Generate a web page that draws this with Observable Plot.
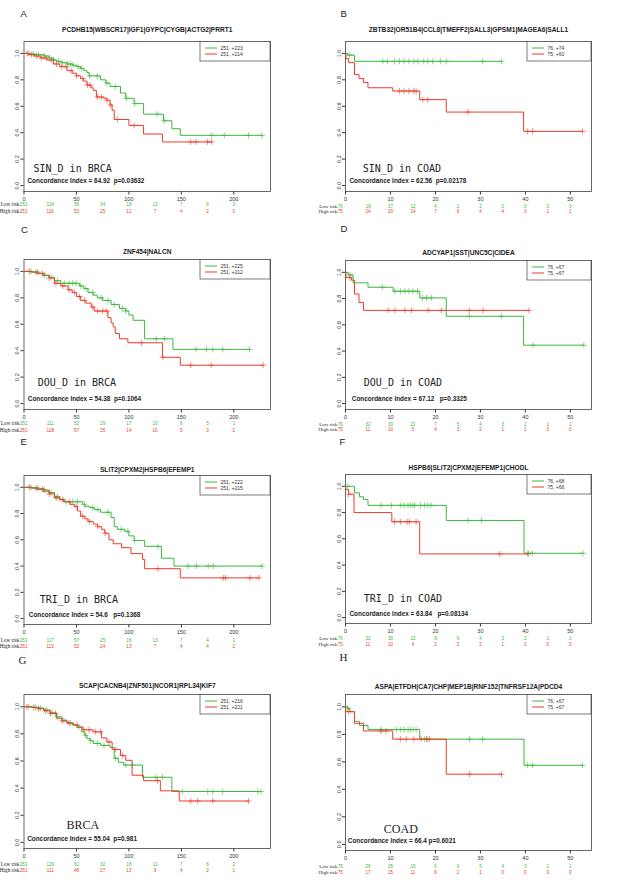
<!DOCTYPE html>
<html><head><meta charset="utf-8">
<script src="https://cdn.jsdelivr.net/npm/d3@7"></script>
<script src="https://cdn.jsdelivr.net/npm/@observablehq/plot@0.6"></script>
<style>
html,body{margin:0;padding:0;background:#fff}
body{width:627px;height:891px;position:relative;overflow:hidden;font-family:"Liberation Sans",Arial,sans-serif}
.panel{position:absolute}
.panel svg{overflow:visible;display:block}
.panel svg text{white-space:pre}
</style></head><body>
<script>
// ---------- shared tick labels / risk-table times ----------
const yTicks = [0, 0.2, 0.4, 0.6, 0.8, 1.0];
const brcaTicks = [0, 50, 100, 150, 200];
const coadTicks = [0, 10, 20, 30, 40, 50];
const brcaRiskTimes = [0, 25, 50, 75, 100, 125, 150, 175, 200];
const coadRiskTimes = [0, 5, 10, 15, 20, 25, 30, 35, 40, 45, 50];

// ---------- Panel A ----------
const aTitle = "PCDHB15|WBSCR17|IGF1|GYPC|CYGB|ACTG2|PRRT1";
const aLegend = ["251, +223", "251, +214"];
const aLabel = "SIN_D in BRCA";
const aStat = "Concordance Index = 64.92  p=0.03632";
const aLowT = [0,5,12,19,24,28,31,36,41,46,50,54,57,60,62,73,78,82,92,97,105,114,133,141,149,227];
const aLowS = [1,0.995,0.99,0.98,0.965,0.95,0.94,0.93,0.92,0.91,0.90,0.886,0.87,0.855,0.83,0.80,0.775,0.75,0.70,0.66,0.62,0.54,0.49,0.43,0.38,0.38];
const aLowCens = [4.5,9,14,19.5,24.5,28.5,33,36.5,41.5,44,47,51.5,55,62.5,70,79,87,97.5,105.5,127,133.5,179,191,214,227];
const aHighT = [0,4,10,16,22,28,34,41,46,50,54,57,60,64,66,69,76,79,82,84,86,100,114,132,179];
const aHighS = [1,0.99,0.98,0.965,0.95,0.92,0.90,0.87,0.85,0.83,0.81,0.79,0.76,0.74,0.72,0.67,0.66,0.645,0.61,0.57,0.50,0.455,0.39,0.33,0.33];
const aHighCens = [3,7,12,16.5,21,26,31,36,40,45,50,56,60.5,63,70,74,79,82.5,89,105,159,164,175,179];
const aRiskLow = [251,124,56,34,18,13,7,6,3];
const aRiskHigh = [251,110,53,25,12,7,4,2,0];

// ---------- Panel B ----------
const bTitle = "ZBTB32|OR51B4|CCL8|TMEFF2|SALL3|GPSM1|MAGEA6|SALL1";
const bLegend = ["76, +74", "75, +60"];
const bLabel = "SIN_D in COAD";
const bStat = "Concordance Index = 62.56  p=0.02178";
const bLowT = [0,0.5,2,34.7];
const bLowS = [1,0.987,0.94,0.94];
const bLowCens = [0.9,8.3,9.3,10.9,12,13,14.1,15.2,16.1,17.4,18.3,19.4,21.1,22.4,30.5,34.7];
const bHighT = [0,0.1,0.7,2,3,4,5,10.5,16.5,22.4,39.6,52.7];
const bHighS = [1,0.96,0.93,0.84,0.81,0.78,0.74,0.715,0.65,0.556,0.41,0.41];
const bHighCens = [12,13,14.1,15.2,15.7,17.2,18.3,27.2,40.5,41.6,52.7];
const bRiskLow = [76,19,17,12,4,2,2,0,0,0,0];
const bRiskHigh = [75,24,20,14,7,6,4,4,3,1,1];

// ---------- Panel C ----------
const cTitle = "ZNF454|NALCN";
const cLegend = ["251, +225", "251, +212"];
const cLabel = "DOU_D in BRCA";
const cStat = "Concordance Index = 54.38  p=0.1064";
const cLowT = [0,8,14,19,24,29,35,53,57,61,66,70,75,83,91,97,100,104,115,142,215];
const cLowS = [1,0.995,0.985,0.97,0.955,0.93,0.91,0.89,0.87,0.84,0.82,0.80,0.78,0.75,0.72,0.70,0.67,0.63,0.49,0.41,0.41];
const cLowCens = [6.7,13,19.4,25.8,32,38.5,43,46.4,49.6,54,59,65.5,73.5,80,86,94,97,126,134,164,174,180,189.5,215];
const cHighT = [0,6,12,18,24,29,35,42,46,50,54,59,64,67,80,83,85,87,91,99,132,149,228];
const cHighS = [1,0.995,0.985,0.97,0.95,0.91,0.89,0.86,0.84,0.81,0.78,0.76,0.73,0.70,0.65,0.61,0.58,0.53,0.49,0.46,0.35,0.29,0.29];
const cHighCens = [5,11.4,17.8,24,30.5,37,43,48,53,57.6,65.5,70.3,75,79,112,132.3,159,178.4,228];
const cRiskLow = [251,111,52,29,17,10,6,5,1];
const cRiskHigh = [251,128,57,35,14,10,5,3,2];

// ---------- Panel D ----------
const dTitle = "ADCYAP1|SST|UNC5C|CIDEA";
const dLegend = ["76, +67", "75, +67"];
const dLabel = "DOU_D in COAD";
const dStat = "Concordance Index = 67.12   p=0.3325";
const dLowT = [0,0.6,1.7,5,10.6,16.5,22.4,39.6,53];
const dLowS = [1,0.98,0.92,0.886,0.856,0.805,0.665,0.445,0.445];
const dLowCens = [1,8.2,11,12.2,13.2,14.1,15,16,17.1,18,19.1,27.5,34.7,41.7,53];
const dHighT = [0,0.1,1.3,2,3,4,40.8];
const dHighS = [1,0.96,0.94,0.835,0.77,0.71,0.71];
const dHighCens = [1,9.5,11,13.2,14.7,18.4,21.3,27.5,30.6,40.8];
const dRiskLow = [76,32,30,21,7,5,4,3,2,1,1];
const dRiskHigh = [75,11,10,5,4,3,2,1,1,0,0];

// ---------- Panel E ----------
const eTitle = "SLIT2|CPXM2|HSPB6|EFEMP1";
const eLegend = ["251, +222", "251, +215"];
const eLabel = "TRI_D in BRCA";
const eStat = "Concordance Index = 54.6   p=0.1368";
const eLowT = [0,8,14,19,24,29,34,38,56,58,63,67,73,83,86,89,96,100,105,115,131,143,227];
const eLowS = [1,0.995,0.99,0.98,0.96,0.93,0.91,0.89,0.87,0.855,0.845,0.83,0.81,0.77,0.70,0.68,0.665,0.63,0.595,0.55,0.46,0.40,0.40];
const eLowCens = [6.7,13,19.4,25.8,32,40,46.5,51,57.7,65.6,70.4,80,92.7,99,105.5,127.8,156.5,164.4,175.6,180.4,227];
const eHighT = [0,6,12,18,24,29,34,38,44,48,51,54,58,61,66,70,74,77,81,85,93,102,113,115,149,224];
const eHighS = [1,0.995,0.985,0.97,0.95,0.92,0.905,0.89,0.87,0.855,0.82,0.78,0.76,0.74,0.72,0.70,0.68,0.65,0.60,0.57,0.54,0.495,0.45,0.38,0.31,0.31];
const eHighCens = [5,11.5,17.8,24,30.6,37,43.3,49.7,56,62.5,70.4,77.4,127.8,190,192,215.4,224];
const eRiskLow = [251,117,57,25,16,13,7,4,1];
const eRiskHigh = [251,122,52,24,13,7,4,4,2];

// ---------- Panel F ----------
const fTitle = "HSPB6|SLIT2|CPXM2|EFEMP1|CHODL";
const fLegend = ["76, +68", "75, +66"];
const fLabel = "TRI_D in COAD";
const fStat = "Concordance Index = 63.84   p=0.08134";
const fLowT = [0,2,3.1,4,5,22.4,39.7,52.8];
const fLowS = [1,0.95,0.92,0.90,0.855,0.74,0.49,0.49];
const fLowCens = [0.5,7.9,10.2,12.2,13,13.9,14.5,15,15.4,16.7,17.6,18.3,19,27.2,30.2,40.6,41.5,52.8];
const fHighT = [0,0.05,0.7,1.9,10.3,16.5,40.6];
const fHighS = [1,0.975,0.94,0.80,0.73,0.485,0.485];
const fHighCens = [0.7,10.9,12.2,13.7,14.2,15.7,34.3,40.6];
const fRiskLow = [76,32,30,22,9,6,4,3,2,1,1];
const fRiskHigh = [75,11,10,4,2,2,2,1,1,0,0];

// ---------- Panel G ----------
const gTitle = "SCAP|CACNB4|ZNF501|NCOR1|RPL34|KIF7";
const gLegend = ["251, +216", "251, +221"];
const gLabel = "BRCA";
const gStat = "Concordance Index = 55.04  p=0.981";
const gLowT = [0,8,14,19,25,31,36,41,46,51,55,58,60,63,66,73,82,86,90,95,113,141,226];
const gLowS = [1,0.995,0.99,0.975,0.955,0.925,0.90,0.88,0.865,0.85,0.815,0.79,0.765,0.75,0.73,0.715,0.70,0.62,0.59,0.57,0.48,0.375,0.375];
const gLowCens = [4.5,10.8,15.6,22,26.8,31.6,38,44.3,52.3,58.7,63.5,70,76.3,87.4,97,103.4,125.7,132,151,175.2,180,189.5,223,226];
const gHighT = [0,7,13,19,25,31,36,41,47,51,56,66,74,79,84,92,97,103,114,130,148,214];
const gHighS = [1,0.995,0.985,0.97,0.95,0.915,0.895,0.88,0.865,0.85,0.83,0.815,0.77,0.74,0.685,0.64,0.605,0.495,0.455,0.38,0.305,0.305];
const gHighCens = [2.9,9.3,14,20.4,25.2,30,36.4,42.8,50.7,57,62,68.3,73,81,87.4,94,127.3,159,165.6,180,214];
const gRiskLow = [251,129,61,32,18,11,7,6,2];
const gRiskHigh = [251,111,48,27,13,9,4,2,1];

// ---------- Panel H ----------
const hTitle = "ASPA|ETFDH|CA7|CHP|MEP1B|RNF152|TNFRSF12A|PDCD4";
const hLegend = ["76, +67", "75, +67"];
const hLabel = "COAD";
const hStat = "Concordance Index = 66.4 p=0.6021";
const hLowT = [0,0.5,1,2,3.1,5,16.5,39.7,52.8];
const hLowS = [1,0.99,0.965,0.895,0.865,0.835,0.765,0.575,0.575];
const hLowCens = [0.5,7.9,11.3,12.2,13,13.9,14.4,15,15.7,17.6,18.3,27.6,30.5,40.5,41.6,52.7];
const hHighT = [0,0.05,2,4,10.5,22.4,34.8];
const hHighS = [1,0.965,0.88,0.825,0.765,0.51,0.51];
const hHighCens = [0.7,7.9,9,12.2,13.5,15.2,16.8,18,18.7,27.6,34.7];
const hRiskLow = [75,26,25,15,6,6,5,4,3,1,1];
const hRiskHigh = [75,17,15,11,6,2,1,0,0,0,0];

// ---------- styling ----------
const GREEN = "#3cb83c", RED = "#ee3b2b";
const SANS = "Liberation Sans, Arial, sans-serif";
const SERIF = "Liberation Serif, Times New Roman, serif";
const MONO = "DejaVu Sans Mono, monospace";

function steps(T, S, group) { return T.map((t, i) => ({t, s: S[i], group})); }
function survAt(T, S, t) { let s = S[0]; for (let i = 0; i < T.length; i++) if (T[i] <= t) s = S[i]; return s; }
function cens(C, T, S, group) { return C.map(t => ({t, s: survAt(T, S, t), group})); }

function legendMark(labels, boxW) {
  return function() {
    const dims = [...arguments].find(a => a && typeof a === "object" && a.marginRight !== undefined && a.width !== undefined);
    const x1 = dims.width - dims.marginRight, x0 = x1 - boxW, y0 = dims.marginTop + 0.5, h = 19.5;
    const g = d3.create("svg:g");
    g.append("rect").attr("x", x0).attr("y", y0).attr("width", boxW).attr("height", h)
      .attr("fill", "white").attr("stroke", "#444").attr("stroke-width", 0.7);
    [GREEN, RED].forEach((c, i) => {
      const y = y0 + 6.5 + i * 6;
      g.append("line").attr("x1", x0 + 5).attr("x2", x0 + 17).attr("y1", y).attr("y2", y)
        .attr("stroke", c).attr("stroke-width", 1);
      g.append("text").attr("x", x0 + 20.5).attr("y", y).attr("dy", "0.35em")
        .attr("text-anchor", "start")
        .attr("font-size", 5).attr("font-family", SANS).attr("fill", "#333").text(labels[i]);
    });
    return g.node();
  };
}

// layout of each panel on the page (plot box top/bottom in page px) and text offsets
const panels = [
  {letter:"A", col:0, top:41,  bottom:191, type:"BRCA", title:aTitle, legend:aLegend, label:aLabel, stat:aStat,
   lowT:aLowT, lowS:aLowS, lowC:aLowCens, highT:aHighT, highS:aHighS, highC:aHighCens, riskLow:aRiskLow, riskHigh:aRiskHigh,
   lx:-3.5, ly:-31, ty:-14.3, labDx:9.5, labDy:-19.7, statDx:3.5, statDy:-8.3, r1:14.8, r2:21.2},
  {letter:"B", col:1, top:41,  bottom:191, type:"COAD", title:bTitle, legend:bLegend, label:bLabel, stat:bStat,
   lowT:bLowT, lowS:bLowS, lowC:bLowCens, highT:bHighT, highS:bHighS, highC:bHighCens, riskLow:bRiskLow, riskHigh:bRiskHigh,
   lx:-5, ly:-31, ty:-14.3, labDx:17.3, labDy:-19.7, statDx:4, statDy:-8.4, r1:16, r2:21.3},
  {letter:"C", col:0, top:259, bottom:409, type:"BRCA", title:cTitle, legend:cLegend, label:cLabel, stat:cStat,
   lowT:cLowT, lowS:cLowS, lowC:cLowCens, highT:cHighT, highS:cHighS, highC:cHighCens, riskLow:cRiskLow, riskHigh:cRiskHigh,
   lx:-3, ly:-33, ty:-9.7, labDx:13.8, labDy:-23.3, statDx:3.8, statDy:-8.5, r1:15.7, r2:22.3},
  {letter:"D", col:1, top:260, bottom:409, type:"COAD", title:dTitle, legend:dLegend, label:dLabel, stat:dStat,
   lowT:dLowT, lowS:dLowS, lowC:dLowCens, highT:dHighT, highS:dHighS, highC:dHighCens, riskLow:dRiskLow, riskHigh:dRiskHigh,
   lx:-5, ly:-35, ty:-10, labDx:18.3, labDy:-23.2, statDx:6.3, statDy:-8.2, r1:16, r2:21},
  {letter:"E", col:0, top:475, bottom:624, type:"BRCA", title:eTitle, legend:eLegend, label:eLabel, stat:eStat,
   lowT:eLowT, lowS:eLowS, lowC:eLowCens, highT:eHighT, highS:eHighS, highC:eHighCens, riskLow:eRiskLow, riskHigh:eRiskHigh,
   lx:-3.5, ly:-37, ty:-8.3, labDx:15.8, labDy:-22, statDx:4.8, statDy:-7.8, r1:17.2, r2:23.2},
  {letter:"F", col:1, top:474, bottom:623, type:"COAD", title:fTitle, legend:fLegend, label:fLabel, stat:fStat,
   lowT:fLowT, lowS:fLowS, lowC:fLowCens, highT:fHighT, highS:fHighS, highC:fHighCens, riskLow:fRiskLow, riskHigh:fRiskHigh,
   lx:-6, ly:-36, ty:-9, labDx:18.3, labDy:-21.7, statDx:4, statDy:-7.7, r1:16.3, r2:22},
  {letter:"G", col:0, top:694, bottom:848, type:"BRCA", title:gTitle, legend:gLegend, label:gLabel, stat:gStat, serifLetter:true, serifLabel:true,
   lowT:gLowT, lowS:gLowS, lowC:gLowCens, highT:gHighT, highS:gHighS, highC:gHighCens, riskLow:gRiskLow, riskHigh:gRiskHigh,
   lx:-5.5, ly:-38, ty:-10.7, labDx:42.5, labDy:-19.3, statDx:3.2, statDy:-7.7, r1:17.3, r2:23.3},
  {letter:"H", col:1, top:694, bottom:850, type:"COAD", title:hTitle, legend:hLegend, label:hLabel, stat:hStat, serifLetter:true, serifLabel:true,
   lowT:hLowT, lowS:hLowS, lowC:hLowCens, highT:hHighT, highS:hHighS, highC:hHighCens, riskLow:hRiskLow, riskHigh:hRiskHigh,
   lx:-6, ly:-41, ty:-10, labDx:38.3, labDy:-17.2, statDx:2.3, statDy:-7.7, r1:17, r2:23}
];

const MT = 44, MB = 30;

for (const p of panels) {
  const brca = p.type === "BRCA";
  const H = p.bottom - p.top;
  const lines = [...steps(p.lowT, p.lowS, "low"), ...steps(p.highT, p.highS, "high")];
  const cz = [...cens(p.lowC, p.lowT, p.lowS, "low"), ...cens(p.highC, p.highT, p.highS, "high")];
  const riskT = brca ? brcaRiskTimes : coadRiskTimes;
  const lowRows = p.riskLow.map((v, i) => ({t: riskT[i], v}));
  const highRows = p.riskHigh.map((v, i) => ({t: riskT[i], v}));
  const firstDx = brca ? -4.2 : -7.7;
  const rowLabDx = brca ? -4.7 : -8.3;
  const rowLabSize = brca ? 5.2 : 5;

  const riskMarks = (rows, color, dy) => [
    Plot.text(rows.slice(1), {x: "t", text: "v", frameAnchor: "bottom", dy, fill: color, fontSize: 4.6, fontFamily: SANS}),
    Plot.text(rows.slice(0, 1), {x: "t", text: "v", frameAnchor: "bottom", dy, dx: firstDx, textAnchor: "start", fill: color, fontSize: 4.6, fontFamily: SANS})
  ];

  const chart = Plot.plot({
    width: 313,
    height: MT + H + MB,
    marginTop: MT, marginBottom: MB,
    marginLeft: brca ? 23.5 : 31,
    marginRight: brca ? 43 : 36,
    style: {fontSize: "5.5px", fontFamily: SANS, color: "#333", background: "transparent", overflow: "visible"},
    x: {domain: brca ? [0, 235] : [0, 54.7], ticks: brca ? brcaTicks : coadTicks, tickSize: 3.5, tickPadding: 2.5, label: null},
    y: {domain: [-0.045, 1.09], ticks: yTicks, tickFormat: d3.format(".1f"), tickSize: 3, tickPadding: 2, tickRotate: -90, label: null},
    color: {domain: ["low", "high"], range: [GREEN, RED]},
    marks: [
      Plot.frame({stroke: "#444", strokeWidth: 0.8}),
      Plot.line(lines.filter(d => d.group === "low"), {x: "t", y: "s", stroke: "group", curve: "step-after", strokeWidth: 1}),
      Plot.line(lines.filter(d => d.group === "high"), {x: "t", y: "s", stroke: "group", curve: "step-after", strokeWidth: 1}),
      Plot.dot(cz, {x: "t", y: "s", stroke: "group", symbol: "plus", r: 2.1, strokeWidth: 0.6}),
      legendMark(p.legend, brca ? 70 : 64),
      Plot.text([p.title], {text: d => d, frameAnchor: "top", dy: p.ty, fontWeight: "bold", fontSize: 6.6, fill: "#222", fontFamily: SANS}),
      Plot.text([p.letter], {text: d => d, frameAnchor: "top-left", dx: p.lx, dy: p.ly, textAnchor: "start",
        fontSize: p.serifLetter ? 11 : 9.5, fontFamily: p.serifLetter ? SERIF : SANS, fill: "#222"}),
      Plot.text([p.label], {text: d => d, frameAnchor: "bottom-left", dx: p.labDx, dy: p.labDy, textAnchor: "start",
        fontSize: p.serifLabel ? 12 : 10, fontFamily: p.serifLabel ? SERIF : MONO, fill: "#222"}),
      Plot.text([p.stat], {text: d => d, frameAnchor: "bottom-left", dx: p.statDx, dy: p.statDy, textAnchor: "start",
        fontSize: 6.4, fontWeight: "bold", fontFamily: SANS, fill: "#222"}),
      Plot.text(["Low risk"], {text: d => d, frameAnchor: "bottom-left", dx: rowLabDx, dy: p.r1, textAnchor: "end", fontSize: rowLabSize, fontFamily: SERIF, fill: "#222"}),
      Plot.text(["High risk"], {text: d => d, frameAnchor: "bottom-left", dx: rowLabDx, dy: p.r2, textAnchor: "end", fontSize: rowLabSize, fontFamily: SERIF, fill: "#222"}),
      ...riskMarks(lowRows, GREEN, p.r1),
      ...riskMarks(highRows, RED, p.r2)
    ]
  });
  const div = document.createElement("div");
  div.className = "panel";
  div.style.left = (p.col * 314) + "px";
  div.style.top = (p.top - MT) + "px";
  div.appendChild(chart);
  document.body.appendChild(div);
}
</script>
</body></html>
